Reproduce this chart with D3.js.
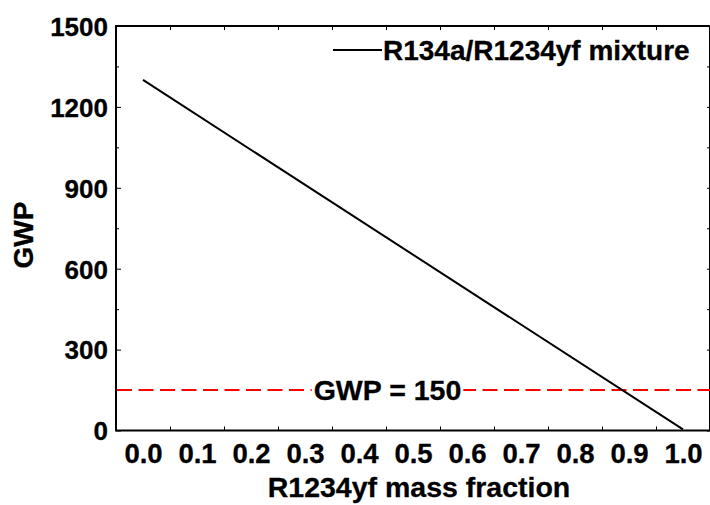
<!DOCTYPE html>
<html>
<head>
<meta charset="utf-8">
<script src="https://cdn.jsdelivr.net/npm/d3@7"></script>
<style>
  html, body { margin: 0; padding: 0; background: #fff; }
  svg { display: block; }
  text { font-family: "Liberation Sans", Arial, sans-serif; font-weight: bold; fill: #000; stroke: #000; stroke-width: 0.3px; }
</style>
</head>
<body>
<svg id="chart" width="710" height="505"></svg>
<script>
// GWP of an R134a/R1234yf blend versus R1234yf mass fraction
const massFraction = [0.0, 1.0];
const gwpValues = [1300, 4];
const xTickValues = [0.0, 0.1, 0.2, 0.3, 0.4, 0.5, 0.6, 0.7, 0.8, 0.9, 1.0];
const xMinorTicks = [0.05, 0.15, 0.25, 0.35, 0.45, 0.55, 0.65, 0.75, 0.85, 0.95];
const yTickValues = [0, 300, 600, 900, 1200, 1500];
const yMinorTicks = [150, 450, 750, 1050, 1350];
const gwpLimit = 150;
const seriesName = "R134a/R1234yf mixture";
const limitLabel = "GWP = 150";
const xTitle = "R1234yf mass fraction";
const yTitle = "GWP";

const svg = d3.select("#chart");
const plot = { left: 116, right: 710, top: 26, bottom: 430.5 };

const x = d3.scaleLinear().domain([-0.05, 1.05]).range([plot.left, plot.right]);
const y = d3.scaleLinear().domain([0, 1500]).range([plot.bottom, plot.top]);

// minor (unlabelled) ticks on all four sides, pointing inward
function styleTicks(g) {
  g.select(".domain").remove();
  g.selectAll(".tick line").attr("stroke", "#000").attr("stroke-width", 1);
}
svg.append("g").attr("transform", `translate(0,${plot.bottom})`)
  .call(d3.axisBottom(x).tickValues(xMinorTicks).tickSize(-4).tickFormat(""))
  .call(styleTicks);
svg.append("g").attr("transform", `translate(0,${plot.top})`)
  .call(d3.axisTop(x).tickValues(xMinorTicks).tickSize(-4).tickFormat(""))
  .call(styleTicks);
svg.append("g").attr("transform", `translate(${plot.left},0)`)
  .call(d3.axisLeft(y).tickValues(yMinorTicks).tickSize(-3).tickFormat(""))
  .call(styleTicks);
svg.append("g").attr("transform", `translate(${plot.right},0)`)
  .call(d3.axisRight(y).tickValues(yMinorTicks).tickSize(-3).tickFormat(""))
  .call(styleTicks);
svg.append("g").attr("transform", `translate(${plot.right},0)`)
  .call(d3.axisRight(y).tickValues(yTickValues).tickSize(-3).tickFormat(""))
  .call(styleTicks);

// labelled axes
const yAxis = svg.append("g").attr("transform", `translate(${plot.left},0)`)
  .call(d3.axisLeft(y).tickValues(yTickValues).tickSize(-5).tickPadding(8).tickFormat(d3.format("d")));
yAxis.select(".domain").remove();
yAxis.selectAll(".tick line").attr("stroke", "#000").attr("stroke-width", 1);
yAxis.selectAll(".tick text")
  .style("font-family", '"Liberation Sans", Arial, sans-serif')
  .style("font-weight", "bold").attr("font-size", 26).attr("fill", "#000")
  .attr("dy", "0.36em");

const xAxis = svg.append("g").attr("transform", `translate(0,${plot.bottom})`)
  .call(d3.axisBottom(x).tickValues(xTickValues).tickSize(0).tickPadding(13).tickFormat(d3.format(".1f")));
xAxis.select(".domain").remove();
xAxis.selectAll(".tick text")
  .style("font-family", '"Liberation Sans", Arial, sans-serif')
  .style("font-weight", "bold").attr("font-size", 27.5).attr("fill", "#000");

// frame
svg.append("rect")
  .attr("x", plot.left).attr("y", plot.top)
  .attr("width", plot.right - plot.left).attr("height", plot.bottom - plot.top)
  .attr("fill", "none").attr("stroke", "#000").attr("stroke-width", 2);

// GWP limit
svg.append("line")
  .attr("x1", plot.left + 1).attr("x2", plot.right)
  .attr("y1", y(gwpLimit)).attr("y2", y(gwpLimit))
  .attr("stroke", "#ff0000").attr("stroke-width", 2)
  .attr("stroke-dasharray", "15,6.5");

const limitText = svg.append("text")
  .attr("x", 387.5).attr("y", y(gwpLimit))
  .attr("dy", "0.36em").attr("text-anchor", "middle")
  .attr("font-size", 28.5).text(limitLabel);
const bb = limitText.node().getBBox();
svg.insert("rect", () => limitText.node())
  .attr("x", bb.x - 2).attr("y", y(gwpLimit) - 4)
  .attr("width", bb.width + 4).attr("height", 8)
  .attr("fill", "#fff");

// mixture line
const line = d3.line().x((d, i) => x(massFraction[i])).y(d => y(d));
svg.append("path")
  .datum(gwpValues)
  .attr("d", line)
  .attr("fill", "none").attr("stroke", "#000").attr("stroke-width", 2);

// legend
svg.append("line")
  .attr("x1", 333).attr("x2", 382).attr("y1", 50).attr("y2", 50)
  .attr("stroke", "#000").attr("stroke-width", 2);
svg.append("text")
  .attr("x", 383).attr("y", 59.5)
  .attr("font-size", 28).text(seriesName);

// axis titles
svg.append("text")
  .attr("x", 419).attr("y", 497)
  .attr("text-anchor", "middle").attr("font-size", 28.5).text(xTitle);
svg.append("text")
  .attr("transform", "translate(33,235) rotate(-90)")
  .attr("text-anchor", "middle").attr("font-size", 28).text(yTitle);
</script>
</body>
</html>
